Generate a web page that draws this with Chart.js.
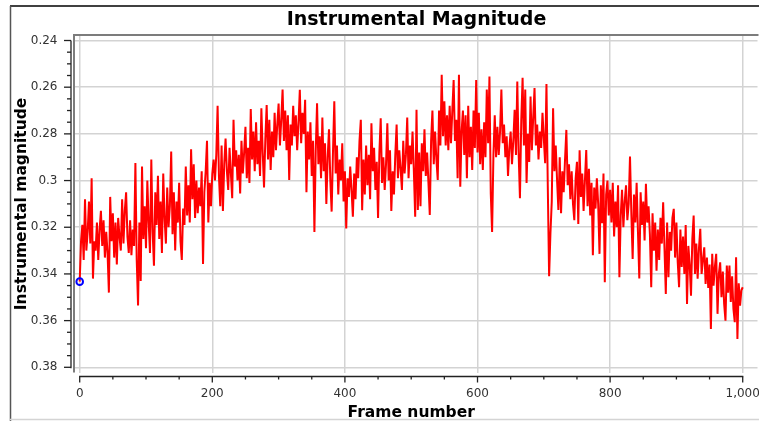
<!DOCTYPE html>
<html><head><meta charset="utf-8">
<script src="https://cdn.jsdelivr.net/npm/chart.js@4.4.0/dist/chart.umd.min.js"></script>
<style>html,body{margin:0;padding:0;background:#fff;overflow:hidden}#wrap{width:759px;height:421px;position:relative}</style>
</head><body><div id="wrap"><canvas id="c" width="759" height="421"></canvas></div>
<script>
const chartTitle = 'Instrumental Magnitude';
const xAxisTitle = 'Frame number';
const yAxisTitle = 'Instrumental magnitude';
const xTickValues = [0, 200, 400, 600, 800, 1000];
const xTickLabels = ['0', '200', '400', '600', '800', '1,000'];
const yTickValues = [0.24, 0.26, 0.28, 0.30, 0.32, 0.34, 0.36, 0.38];
const yTickLabels = ['0.24', '0.26', '0.28', '0.3', '0.32', '0.34', '0.36', '0.38'];
const frameStep = 2;
const magnitudes = [
0.3433,0.326,0.319,0.334,0.308,0.330,0.322,0.309,0.327,0.299,
0.342,0.326,0.330,0.318,0.334,0.321,0.313,0.328,0.317,0.333,
0.322,0.331,0.348,0.307,0.326,0.314,0.333,0.318,0.336,0.316,
0.324,0.330,0.308,0.327,0.313,0.305,0.324,0.331,0.317,0.332,
0.321,0.328,0.2925,0.334,0.3535,0.318,0.343,0.294,0.325,0.311,
0.329,0.300,0.318,0.331,0.291,0.322,0.3365,0.305,0.319,0.298,
0.325,0.309,0.331,0.297,0.316,0.327,0.303,0.320,0.311,0.2876,
0.323,0.305,0.330,0.309,0.318,0.301,0.326,0.334,0.312,0.319,
0.294,0.315,0.302,0.318,0.2866,0.308,0.293,0.316,0.300,0.314,
0.303,0.311,0.296,0.3357,0.305,0.296,0.283,0.318,0.301,0.311,
0.297,0.291,0.300,0.289,0.268,0.298,0.311,0.285,0.313,0.293,
0.282,0.296,0.304,0.286,0.297,0.3076,0.274,0.294,0.287,0.300,
0.289,0.3055,0.283,0.297,0.288,0.277,0.299,0.286,0.301,0.2694,
0.291,0.279,0.296,0.275,0.293,0.283,0.298,0.269,0.288,0.303,
0.282,0.2676,0.291,0.274,0.2955,0.279,0.290,0.271,0.287,0.276,
0.267,0.285,0.274,0.261,0.283,0.270,0.287,0.272,0.2997,0.276,
0.285,0.268,0.281,0.272,0.287,0.275,0.2611,0.284,0.271,0.280,
0.2654,0.305,0.279,0.291,0.275,0.298,0.283,0.322,0.287,0.2669,
0.293,0.281,0.299,0.273,0.296,0.284,0.310,0.290,0.278,0.300,
0.3133,0.288,0.266,0.297,0.285,0.306,0.291,0.300,0.284,0.309,
0.296,0.3205,0.299,0.307,0.294,0.304,0.3155,0.297,0.308,0.290,
0.299,0.283,0.274,0.3127,0.291,0.306,0.285,0.302,0.289,0.308,
0.2755,0.296,0.286,0.304,0.292,0.316,0.288,0.2733,0.301,0.290,
0.304,0.293,0.2755,0.300,0.287,0.313,0.296,0.306,0.289,0.276,
0.299,0.287,0.295,0.304,0.283,0.297,0.289,0.273,0.299,0.285,
0.293,0.279,0.296,0.3155,0.2697,0.3126,0.288,0.311,0.284,0.296,
0.278,0.298,0.288,0.301,0.3147,0.283,0.270,0.293,0.279,0.291,
0.2997,0.270,0.285,0.2547,0.281,0.266,0.285,0.272,0.287,0.268,
0.284,0.270,0.2569,0.283,0.274,0.299,0.2547,0.3026,0.279,0.270,
0.289,0.272,0.299,0.268,0.290,0.277,0.2955,0.270,0.286,0.2569,
0.288,0.271,0.293,0.278,0.2955,0.275,0.290,0.261,0.284,0.2554,
0.3055,0.322,0.289,0.272,0.290,0.277,0.289,0.279,0.261,0.284,
0.276,0.290,0.281,0.298,0.286,0.279,0.293,0.283,0.2697,0.289,
0.2576,0.288,0.3076,0.274,0.256,0.285,0.261,0.301,0.280,0.292,
0.264,0.287,0.273,0.2604,0.285,0.276,0.291,0.279,0.286,0.271,
0.282,0.2926,0.2586,0.3026,0.341,0.3226,0.309,0.269,0.296,0.285,
0.300,0.3126,0.290,0.314,0.296,0.305,0.291,0.2783,0.302,0.293,
0.308,0.296,0.310,0.317,0.299,0.292,0.3186,0.287,0.307,0.297,
0.313,0.300,0.2869,0.311,0.295,0.315,0.301,0.332,0.303,0.312,
0.299,0.310,0.3314,0.302,0.3183,0.297,0.3436,0.306,0.300,0.315,
0.304,0.318,0.301,0.324,0.309,0.320,0.302,0.3414,0.315,0.304,
0.320,0.309,0.302,0.317,0.310,0.2897,0.314,0.3336,0.306,0.318,
0.301,0.322,0.342,0.305,0.319,0.309,0.3257,0.3014,0.318,0.311,
0.323,0.3457,0.314,0.330,0.318,0.3386,0.321,0.334,0.316,0.327,
0.3093,0.329,0.3486,0.318,0.3414,0.322,0.330,0.316,0.3121,0.333,
0.318,0.335,0.3457,0.321,0.337,0.324,0.340,0.319,0.3529,0.328,
0.336,0.3493,0.325,0.315,0.340,0.327,0.342,0.329,0.3207,0.340,
0.334,0.3286,0.3443,0.333,0.346,0.336,0.3636,0.3314,0.345,0.337,
0.3314,0.3571,0.340,0.335,0.350,0.339,0.3529,0.360,0.3364,0.348,
0.3364,0.352,0.341,0.355,0.3607,0.3329,0.3679,0.344,0.3536,0.347,
0.3457
];
const frames = magnitudes.map((_, i) => i * frameStep);
const highlightFrames = [0];
const highlightMagnitudes = [0.3433];

const FONT = "'DejaVu Sans', sans-serif";

const decor = {
  id: 'decor',
  beforeDraw(chart) {
    const ctx = chart.ctx;
    ctx.save();
    ctx.fillStyle = '#ffffff';
    ctx.fillRect(0, 0, chart.width, chart.height);
    ctx.restore();
  },
  afterDraw(chart) {
    const { ctx, chartArea: a, scales: { x, y } } = chart;
    const ln = (x1, y1, x2, y2) => { ctx.beginPath(); ctx.moveTo(x1, y1); ctx.lineTo(x2, y2); ctx.stroke(); };
    ctx.save();
    // outer border
    ctx.lineWidth = 1.5;
    ctx.strokeStyle = '#000000';
    ln(10, 6, chart.width, 6);
    ctx.strokeStyle = '#555555';
    ln(10.5, 6, 10.5, chart.height);
    ctx.strokeStyle = '#d4d4d4';
    ln(10, 419.5, chart.width, 419.5);
    // plot frame (top + left)
    ctx.lineWidth = 2;
    ctx.strokeStyle = '#7c7c7c';
    ln(a.left, a.top, a.right + 1, a.top);
    ln(a.left, a.top - 1, a.left, a.bottom);
    // y axis
    const ax = a.left - 3;
    const y0 = y.getPixelForValue(yTickValues[0]);
    const y1 = y.getPixelForValue(yTickValues[yTickValues.length - 1]);
    ctx.strokeStyle = '#222222';
    ctx.lineWidth = 1.3;
    ln(ax, y0, ax, y1 + 1);
    yTickValues.forEach((v, i) => {
      const p = y.getPixelForValue(v);
      ln(ax, p, ax - 7, p);
      if (i < yTickValues.length - 1) {
        const step = (yTickValues[i + 1] - v) / 4;
        for (let k = 1; k < 4; k++) {
          const q = y.getPixelForValue(v + step * k);
          ln(ax, q, ax - 4, q);
        }
      }
    });
    // x axis
    const ay = a.bottom + 4;
    const x0 = x.getPixelForValue(xTickValues[0]);
    const x1 = x.getPixelForValue(xTickValues[xTickValues.length - 1]);
    ln(x0 - 0.6, ay, x1 + 0.6, ay);
    xTickValues.forEach((v, i) => {
      const p = x.getPixelForValue(v);
      ln(p, ay, p, ay + 6);
      if (i < xTickValues.length - 1) {
        const step = (xTickValues[i + 1] - v) / 4;
        for (let k = 1; k < 4; k++) {
          const q = x.getPixelForValue(v + step * k);
          ln(q, ay, q, ay + 3);
        }
      }
    });
    // titles
    ctx.fillStyle = '#000000';
    ctx.textBaseline = 'alphabetic';
    ctx.textAlign = 'center';
    ctx.font = "bold 19px " + FONT;
    ctx.fillText(chartTitle, 416.5, 25);
    ctx.font = "bold 15.5px " + FONT;
    ctx.fillText(xAxisTitle, x.getPixelForValue(500), 417);
    ctx.save();
    ctx.translate(26, (y0 + y1) / 2);
    ctx.rotate(-Math.PI / 2);
    ctx.fillText(yAxisTitle, 0, 0);
    ctx.restore();
    ctx.restore();
  }
};

new Chart(document.getElementById('c'), {
  type: 'line',
  data: {
    datasets: [
      {
        data: highlightFrames.map((f, i) => ({ x: f, y: highlightMagnitudes[i] })),
        showLine: false,
        pointRadius: 3.3,
        pointBorderWidth: 2,
        pointBorderColor: '#0000ff',
        pointBackgroundColor: 'rgba(0,0,0,0)',
        order: 0
      },
      {
        data: frames.map((f, i) => ({ x: f, y: magnitudes[i] })),
        borderColor: '#ff0000',
        borderWidth: 2,
        pointRadius: 0,
        tension: 0,
        fill: false,
        order: 1
      }
    ]
  },
  options: {
    responsive: false,
    animation: false,
    devicePixelRatio: 1,
    layout: { autoPadding: false, padding: { top: 35, right: 1.5, bottom: 0, left: 0 } },
    plugins: { legend: { display: false }, title: { display: false }, tooltip: { enabled: false } },
    scales: {
      x: {
        type: 'linear',
        min: -8.6,
        max: 1022.3,
        afterFit(s) { s.height = 48.5; s.paddingLeft = 0; s.paddingRight = 0; },
        afterBuildTicks(s) { s.ticks = xTickValues.map(v => ({ value: v })); },
        border: { display: false },
        grid: { color: '#d3d3d3', lineWidth: 1.5, drawTicks: false },
        ticks: {
          autoSkip: false, maxRotation: 0, padding: 14.3,
          color: '#333333', font: { family: FONT, size: 12 },
          callback: (v, i) => xTickLabels[i]
        }
      },
      y: {
        type: 'linear',
        reverse: true,
        min: 0.237644,
        max: 0.382228,
        afterFit(s) { s.width = 74; s.paddingTop = 0; s.paddingBottom = 0; },
        afterBuildTicks(s) { s.ticks = yTickValues.map(v => ({ value: v })); },
        border: { display: false },
        grid: { color: '#d3d3d3', lineWidth: 1.5, drawTicks: false },
        ticks: {
          autoSkip: false, padding: 16.5,
          color: '#333333', font: { family: FONT, size: 12 },
          callback: (v, i) => yTickLabels[i]
        }
      }
    }
  },
  plugins: [decor]
});
</script></body></html>
